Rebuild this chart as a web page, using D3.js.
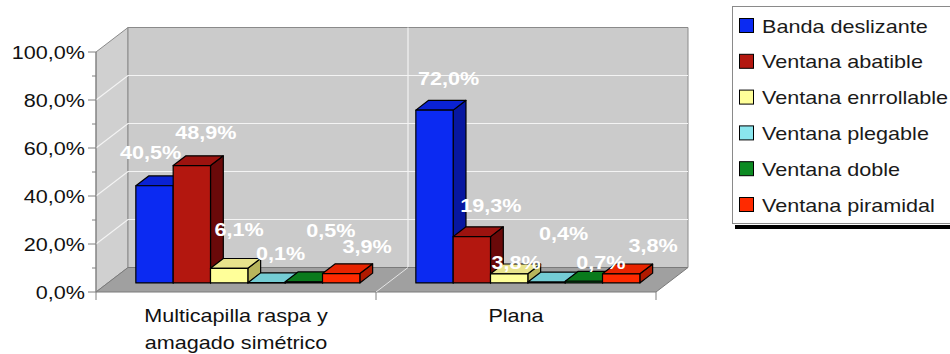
<!DOCTYPE html>
<html>
<head>
<meta charset="utf-8">
<script src="https://cdn.jsdelivr.net/npm/d3@7"></script>
<style>
  body { margin: 0; background: #fff; }
  svg { display: block; font-family: "Liberation Sans", Arial, sans-serif; }
</style>
</head>
<body>
<div id="chart"></div>
<script>
// data
var categories = [["Multicapilla raspa y", "amagado simétrico"], ["Plana"]];
var seriesNames = ["Banda deslizante", "Ventana abatible", "Ventana enrrollable",
                   "Ventana plegable", "Ventana doble", "Ventana piramidal"];
var multicapilla = [40.5, 48.9, 6.1, 0.1, 0.5, 3.9];
var plana = [72.0, 19.3, 3.8, 0.4, 0.7, 3.8];
var yTicks = [0, 20, 40, 60, 80, 100];

// colours: front, top, side
var fronts = ["#0b2af2", "#b3170f", "#ffff99", "#8ae6ee", "#0c8a22", "#ff2a00"];
var tops   = ["#0a22d4", "#9c130f", "#e8e38c", "#74ccd4", "#0a7a1c", "#e82400"];
var sides  = ["#0717a0", "#6a0909", "#b8b55c", "#4fa2aa", "#06561a", "#b01a00"];

// label nudges (dx, dy from bar top) to mimic the original placement
var labelShift = [
  [[-4, -33], [14, -33], [10, -39], [14, -29], [27, -51], [26, -27]],
  [[14, -32], [19, -31], [7, -11], [17, -48], [17, -19], [32, -28]]
];

var values = [multicapilla, plana];

var width = 950, height = 354;
var x0 = 96, x1 = 656, yBottom = 292, yTop = 52;
var depth = [32, -24.5];          // full wall depth
var barOff = 0.37, barDepth = 0.4; // bar plane position and thickness (fraction of depth)
var sx = 1.2;                       // horizontal stretch of the original picture

var svg = d3.select("#chart").append("svg")
  .attr("width", width)
  .attr("height", height);

var y = d3.scaleLinear().domain([0, 100]).range([yBottom, yTop]);
var xCat = d3.scaleBand().domain(d3.range(categories.length)).range([x0, x1]);
var xSer = d3.scaleBand().domain(d3.range(seriesNames.length))
  .range([0, xCat.bandwidth()]).paddingOuter(0.75).paddingInner(0);

function pts(arr) { return arr.map(p => p.join(",")).join(" "); }

function addText(g, x, yy, str, anchor) {
  return g.append("text")
    .attr("transform", `translate(${x},${yy}) scale(${sx},1)`)
    .attr("text-anchor", anchor || "start")
    .text(str);
}

// walls
var dx = depth[0], dy = depth[1];
svg.append("polygon") // left wall
  .attr("points", pts([[x0, yBottom], [x0, yTop], [x0 + dx, yTop + dy], [x0 + dx, yBottom + dy]]))
  .attr("fill", "#d0d0d0").attr("stroke", "#8a8a8a");
svg.append("polygon") // back wall
  .attr("points", pts([[x0 + dx, yTop + dy], [x1 + dx, yTop + dy], [x1 + dx, yBottom + dy], [x0 + dx, yBottom + dy]]))
  .attr("fill", "#cbcbcb").attr("stroke", "#8a8a8a");

// gridlines
var grid = svg.append("g").attr("stroke", "#f4f4f4").attr("stroke-width", 1.2);
yTicks.filter(t => t > 0 && t < 100).forEach(function(t) {
  grid.append("polyline")
    .attr("fill", "none")
    .attr("points", pts([[x0, y(t)], [x0 + dx, y(t) + dy], [x1 + dx, y(t) + dy]]));
});
d3.range(1, categories.length).forEach(function(i) {
  var xv = xCat(i);
  grid.append("line").attr("x1", xv + dx).attr("x2", xv + dx)
    .attr("y1", yTop + dy).attr("y2", yBottom + dy);
});

// floor
svg.append("polygon")
  .attr("points", pts([[x0, yBottom], [x1, yBottom], [x1 + dx, yBottom + dy], [x0 + dx, yBottom + dy]]))
  .attr("fill", "#a0a0a0").attr("stroke", "#7a7a7a");
d3.range(1, categories.length).forEach(function(i) {
  var xv = xCat(i);
  svg.append("line").attr("x1", xv).attr("x2", xv + dx)
    .attr("y1", yBottom).attr("y2", yBottom + dy)
    .attr("stroke", "#e6e6e6");
});

// axis ticks
var axis = svg.append("g").attr("stroke", "#808080");
axis.append("line").attr("x1", x0).attr("x2", x0).attr("y1", yTop).attr("y2", yBottom);
d3.range(0, 101, 10).forEach(function(t) {
  axis.append("line")
    .attr("x1", t % 20 === 0 ? x0 - 8 : x0 - 4).attr("x2", x0)
    .attr("y1", y(t)).attr("y2", y(t));
});
d3.range(0, categories.length + 1).forEach(function(i) {
  var xv = i < categories.length ? xCat(i) : x1;
  axis.append("line").attr("x1", xv).attr("x2", xv)
    .attr("y1", yBottom).attr("y2", yBottom + 8);
});

// y tick labels
var yLab = svg.append("g").attr("font-size", 18).attr("fill", "#111");
yTicks.forEach(function(t) {
  addText(yLab, x0 - 11, y(t) + 6.5, t.toFixed(1).replace(".", ",") + "%", "end");
});

// category labels
var cLab = svg.append("g").attr("font-size", 18).attr("fill", "#111");
categories.forEach(function(lines, i) {
  var cx = xCat(i) + xCat.bandwidth() / 2;
  lines.forEach(function(line, k) {
    addText(cLab, cx, 322 + k * 27, line, "middle");
  });
});

// bars
var ox = dx * barOff, oy = dy * barOff;
var bx = dx * barDepth, by = dy * barDepth;
var bars = svg.append("g").attr("stroke", "#000").attr("stroke-width", 1.2).attr("stroke-linejoin", "round");
values.forEach(function(vals, ci) {
  vals.forEach(function(v, si) {
    var left = xCat(ci) + xSer(si) + ox;
    var right = left + xSer.bandwidth();
    var top = y(v) + oy;
    var bot = y(0) + oy;
    var g = bars.append("g");
    g.append("polygon")
      .attr("points", pts([[right, bot], [right, top], [right + bx, top + by], [right + bx, bot + by]]))
      .attr("fill", sides[si]);
    g.append("polygon")
      .attr("points", pts([[left, top], [right, top], [right + bx, top + by], [left + bx, top + by]]))
      .attr("fill", tops[si]);
    g.append("rect")
      .attr("x", left).attr("y", top)
      .attr("width", right - left).attr("height", Math.max(0, bot - top))
      .attr("fill", fronts[si]);
  });
});

// value labels
var vLab = svg.append("g").attr("font-size", 18).attr("font-weight", "bold").attr("fill", "#fff");
values.forEach(function(vals, ci) {
  vals.forEach(function(v, si) {
    var cx = xCat(ci) + xSer(si) + xSer.bandwidth() / 2 + ox;
    var top = y(v) + oy;
    var s = labelShift[ci][si];
    addText(vLab, cx + s[0], top + s[1] + 6.5, v.toFixed(1).replace(".", ",") + "%", "middle");
  });
});

// legend
var lg = svg.append("g");
lg.append("rect").attr("x", 735).attr("y", 225).attr("width", 230).attr("height", 4).attr("fill", "#000");
lg.append("rect").attr("x", 732.5).attr("y", 6.5).attr("width", 240).attr("height", 217)
  .attr("fill", "#fff").attr("stroke", "#8a8a8a");
seriesNames.forEach(function(name, i) {
  var cy = 26 + i * 35.8;
  lg.append("rect")
    .attr("x", 739.5).attr("y", cy - 7.5).attr("width", 14).attr("height", 14)
    .attr("fill", fronts[i]).attr("stroke", "#000");
  addText(lg, 762, cy + 6.5, name).attr("font-size", 18).attr("fill", "#1a1a1a");
});
</script>
</body>
</html>
